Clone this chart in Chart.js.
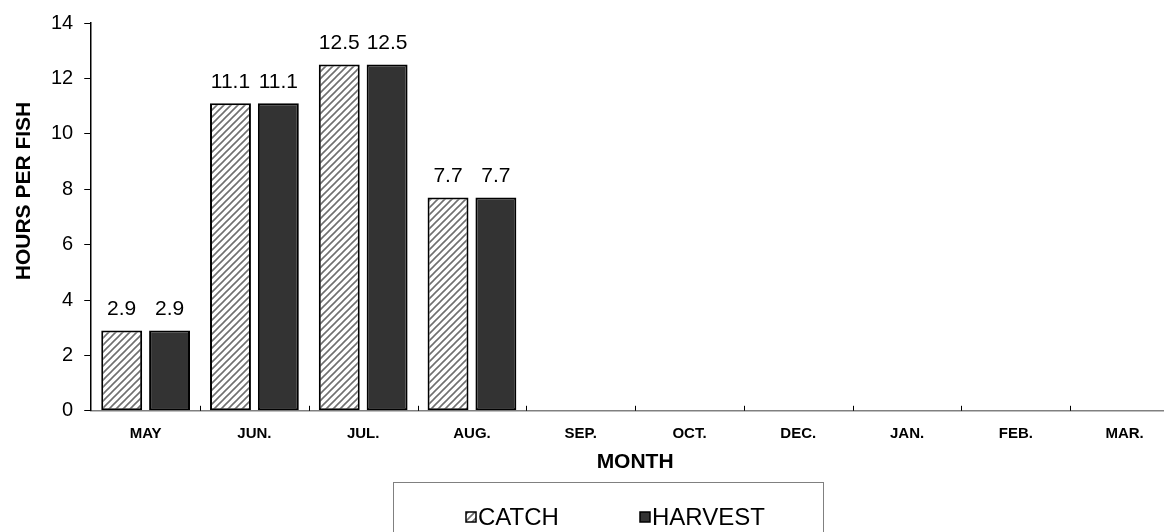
<!DOCTYPE html>
<html>
<head>
<meta charset="utf-8">
<script src="https://cdn.jsdelivr.net/npm/chart.js@4.4.1/dist/chart.umd.min.js"></script>
<style>
  html, body { margin: 0; padding: 0; background: #fff; overflow: hidden; }
  #wrap { width: 1164px; height: 532px; overflow: hidden; position: relative; }
  #chart { position: absolute; left: 0; top: 0; }
</style>
</head>
<body>
<div id="wrap"><canvas id="chart" width="1200" height="560"></canvas></div>
<script>
// Chart values
const months = ["MAY", "JUN.", "JUL.", "AUG.", "SEP.", "OCT.", "DEC.", "JAN.", "FEB.", "MAR."];
const catchHours = [2.9, 11.1, 12.5, 7.7, null, null, null, null, null, null];
const harvestHours = [2.9, 11.1, 12.5, 7.7, null, null, null, null, null, null];
const seriesNames = ["CATCH", "HARVEST"];
const yTitle = "HOURS PER FISH";
const xTitle = "MONTH";
const yMax = 14;
const yStep = 2;

const FONT = "'Liberation Sans', Arial, sans-serif";
const canvas = document.getElementById("chart");
const ctx = canvas.getContext("2d");

// diagonal hatch for the catch bars
function makeHatch() {
  const s = 7;
  const c = document.createElement("canvas");
  c.width = s; c.height = s;
  const g = c.getContext("2d");
  g.fillStyle = "#fff";
  g.fillRect(0, 0, s, s);
  g.strokeStyle = "#707070";
  g.lineWidth = 1.6;
  g.beginPath();
  g.moveTo(-1, s + 1); g.lineTo(s + 1, -1);
  g.moveTo(-s / 2 - 1, s / 2 + 1); g.lineTo(s / 2 + 1, -s / 2 - 1);
  g.moveTo(s / 2 - 1, s * 1.5 + 1); g.lineTo(s * 1.5 + 1, s / 2 - 1);
  g.stroke();
  return ctx.createPattern(c, "repeat");
}
const hatch = makeHatch();

// values above bars
const barLabels = {
  id: "barLabels",
  afterDatasetsDraw(chart) {
    const c = chart.ctx;
    c.save();
    c.font = "21px " + FONT;
    c.fillStyle = "#000";
    c.textAlign = "center";
    c.textBaseline = "middle";
    chart.data.datasets.forEach((ds, i) => {
      chart.getDatasetMeta(i).data.forEach((bar, j) => {
        const v = ds.data[j];
        if (v == null) return;
        c.fillText(v.toFixed(1), bar.x, bar.y - 21);
      });
    });
    c.restore();
  }
};

// small inward tick marks between categories
const innerTicks = {
  id: "innerTicks",
  afterDraw(chart) {
    const x = chart.scales.x;
    const c = chart.ctx;
    const bottom = chart.chartArea.bottom;
    c.save();
    c.strokeStyle = "#000";
    c.lineWidth = 1;
    c.beginPath();
    for (let i = 1; i <= months.length; i++) {
      const px = Math.round((x.getPixelForValue(i - 1) + x.getPixelForValue(i)) / 2) + 0.5;
      c.moveTo(px, bottom);
      c.lineTo(px, bottom - 5);
    }
    c.stroke();
    c.restore();
  }
};

// y title sits a bit above the middle of the axis, like the original
const yAxisTitle = {
  id: "yAxisTitle",
  afterDraw(chart) {
    const c = chart.ctx;
    c.save();
    c.translate(24, 191);
    c.rotate(-Math.PI / 2);
    c.font = "bold 21px " + FONT;
    c.fillStyle = "#000";
    c.textAlign = "center";
    c.textBaseline = "middle";
    c.fillText(yTitle, 0, 0);
    c.restore();
  }
};

// boxed legend under the axis title
const boxLegend = {
  id: "boxLegend",
  afterDraw(chart) {
    const c = chart.ctx;
    c.save();
    c.strokeStyle = "#808080";
    c.lineWidth = 1;
    c.strokeRect(393.5, 482.5, 430, 90);
    const itemX = [466, 640];
    c.font = "24px " + FONT;
    c.textBaseline = "middle";
    chart.data.datasets.forEach((ds, i) => {
      const x = itemX[i], y = 517;
      c.fillStyle = ds.backgroundColor;
      c.fillRect(x, y - 5, 10, 10);
      c.strokeStyle = "#000";
      c.lineWidth = 1.5;
      c.strokeRect(x, y - 5, 10, 10);
      c.fillStyle = "#000";
      c.fillText(ds.label, x + 12, y + 1);
    });
    c.restore();
  }
};

new Chart(canvas, {
  type: "bar",
  data: {
    labels: months,
    datasets: [
      {
        label: seriesNames[0],
        data: catchHours,
        backgroundColor: hatch,
        borderColor: "#000",
        borderWidth: 2,
        borderSkipped: false
      },
      {
        label: seriesNames[1],
        data: harvestHours,
        backgroundColor: "#333333",
        borderColor: "#000",
        borderWidth: 2,
        borderSkipped: false
      }
    ]
  },
  options: {
    responsive: false,
    animation: false,
    layout: { padding: { top: 14, left: 40, right: 21, bottom: 85 } },
    datasets: { bar: { categoryPercentage: 0.88, barPercentage: 0.855 } },
    plugins: {
      legend: { display: false },
      tooltip: { enabled: false }
    },
    scales: {
      x: {
        grid: { display: true, drawOnChartArea: false, drawTicks: false },
        border: { display: true, color: "#808080", width: 1.5 },
        ticks: {
          color: "#000",
          padding: 14,
          maxRotation: 0,
          autoSkip: false,
          font: { family: FONT, size: 15, weight: "bold" }
        },
        title: {
          display: true,
          text: xTitle,
          color: "#000",
          padding: { top: -7, bottom: 0 },
          font: { family: FONT, size: 21, weight: "bold" }
        }
      },
      y: {
        min: 0,
        max: yMax,
        grid: { drawOnChartArea: false, drawTicks: true, tickLength: 7, color: "#000" },
        border: { display: true, color: "#000", width: 1.5 },
        ticks: {
          stepSize: yStep,
          color: "#000",
          padding: 11,
          font: { family: FONT, size: 20 }
        }
      }
    }
  },
  plugins: [barLabels, innerTicks, yAxisTitle, boxLegend]
});
</script>
</body>
</html>
